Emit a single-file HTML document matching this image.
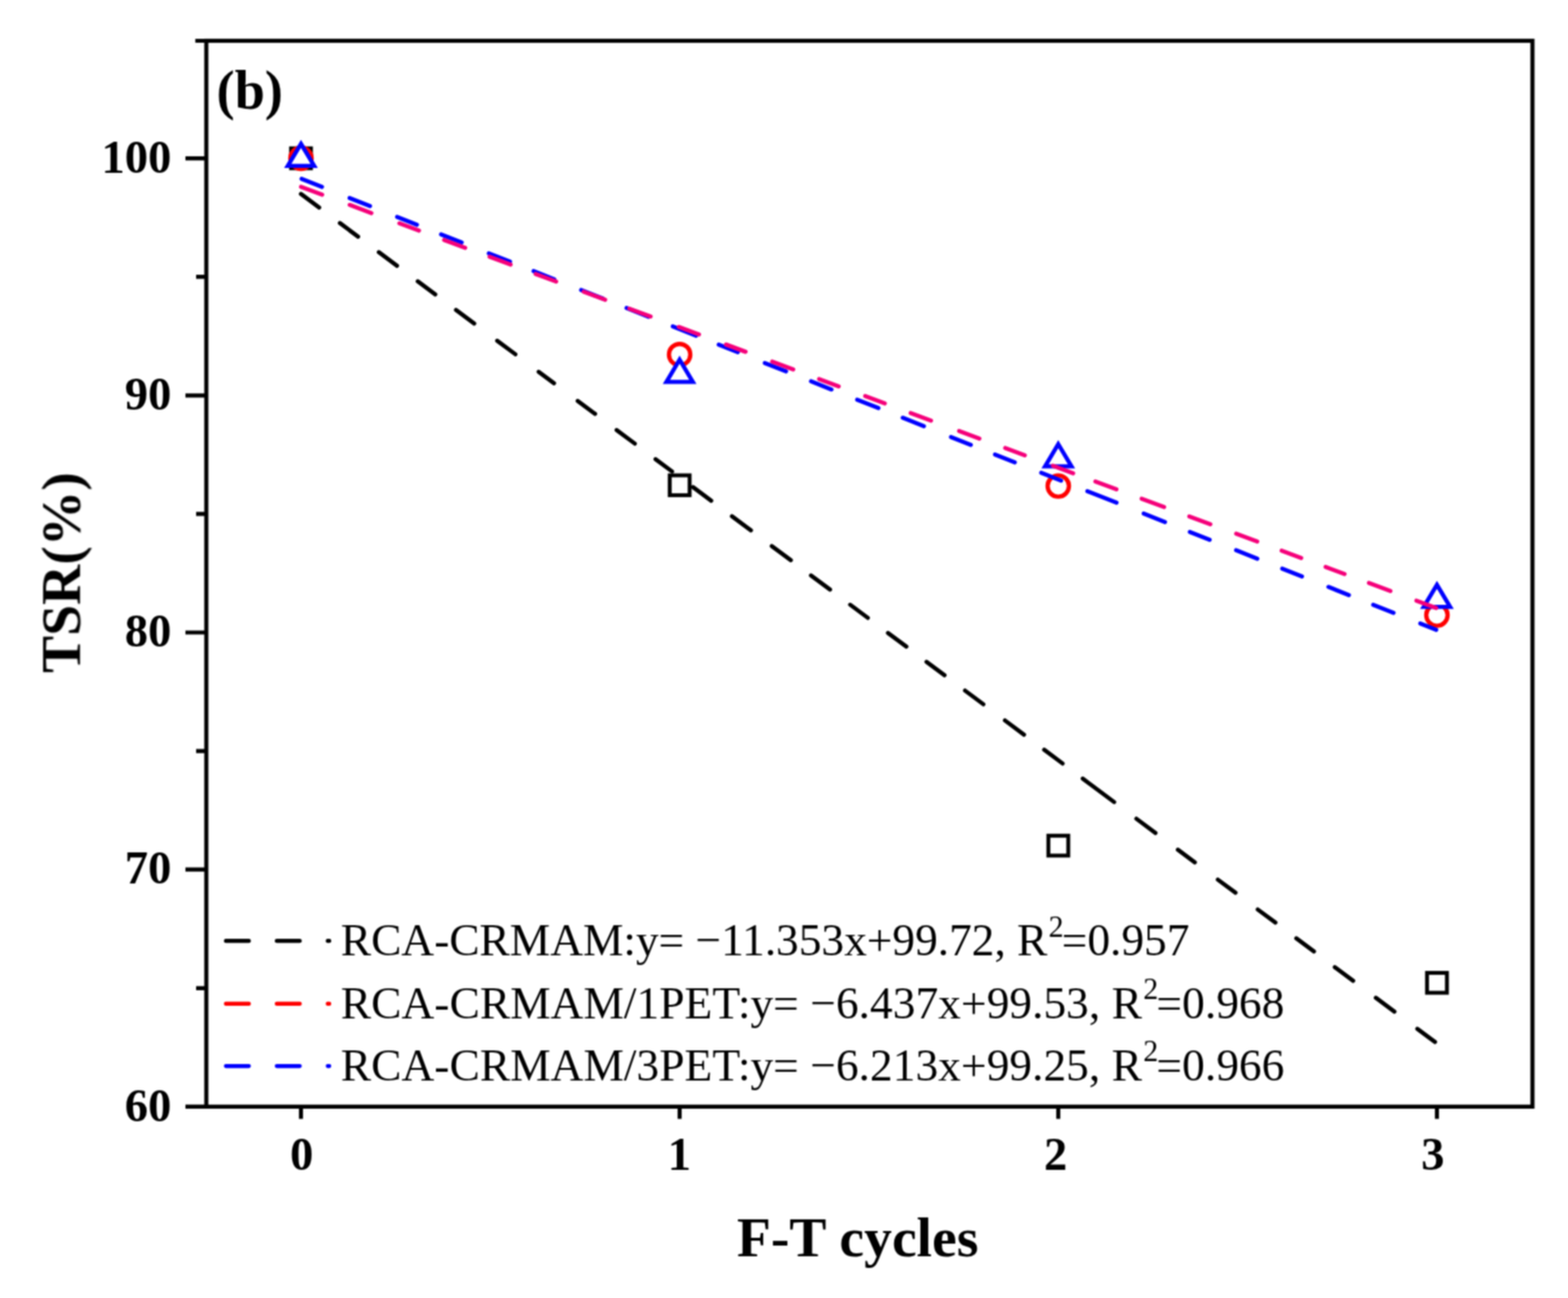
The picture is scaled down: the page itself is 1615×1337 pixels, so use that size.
<!DOCTYPE html>
<html><head><meta charset="utf-8"><title>TSR vs F-T cycles</title>
<style>
html,body{margin:0;padding:0;background:#fff;}
body{width:1615px;height:1337px;overflow:hidden;}
svg{display:block;}
.tk{font-family:"Liberation Serif","Times New Roman",serif;font-weight:bold;font-size:48px;fill:#000;}
.lg{font-family:"Liberation Serif","Times New Roman",serif;font-size:46.85px;fill:#000;}
.ti{font-family:"Liberation Serif","Times New Roman",serif;font-weight:bold;font-size:57.3px;fill:#000;}
</style></head><body>
<svg width="1615" height="1337" viewBox="0 0 1615 1337">
<defs><filter id="soft" filterUnits="userSpaceOnUse" x="0" y="0" width="1615" height="1337" color-interpolation-filters="sRGB"><feConvolveMatrix order="3" kernelMatrix="1 2 1 2 4 2 1 2 1" divisor="16" edgeMode="duplicate"/></filter></defs>
<rect width="1615" height="1337" fill="#fff"/>
<g filter="url(#soft)">
<path d="M310.0 199.83L328.7 213.75M350.1 229.82L368.8 243.74M390.2 259.81L408.9 273.73M430.3 289.80L448.3 303.20M469.7 319.27L488.4 333.19M512.1 350.97L530.8 364.90M554.8 382.91L570.6 394.66M595.0 412.97L612.9 426.30M635.1 442.96L653.8 456.88M675.2 472.95L692.2 485.60M713.8 501.82L732.5 515.74M753.9 531.81L773.4 546.33M794.9 562.47L814.5 577.07M835.3 592.68L854.9 607.28M875.7 622.90L893.8 636.37M914.6 651.99L933.5 666.06M954.3 681.68L972.8 695.45M994.0 711.37L1012.8 725.37M1035.1 742.11L1054.7 756.70M1075.5 772.32L1094.4 786.39M1115.2 802.01L1147.5 826.10M1170.5 843.37L1190.1 857.96M1213.2 875.30L1230.6 888.25M1254.4 906.11L1272.5 919.59M1295.5 936.85L1313.6 950.32M1335.2 966.54L1353.3 980.01M1374.8 996.16L1393.7 1010.23M1417.1 1027.79L1436.2 1042.01M1459.8 1059.72L1478.0 1073.27" stroke="#000000" stroke-width="4.3" stroke-linecap="round" fill="none"/>
<g fill="#fff" stroke="#000" stroke-width="4.0">
<rect x="299.8" y="152.8" width="20.5" height="20.5"/>
<rect x="689.8" y="489.6" width="20.5" height="20.5"/>
<rect x="1079.8" y="860.8" width="20.5" height="20.5"/>
<rect x="1469.8" y="1002.1" width="20.5" height="20.5"/>
</g>
<g fill="#fff" stroke="#ff0000" stroke-width="4.4">
<circle cx="310.0" cy="163.0" r="11.0"/>
<circle cx="700.0" cy="365.2" r="11.0"/>
<circle cx="1090.0" cy="500.6" r="11.0"/>
<circle cx="1480.0" cy="633.6" r="11.0"/>
</g>
<g fill="#fff" stroke="#0000ff" stroke-width="4.3" stroke-linejoin="miter">
<polygon points="310.0,148.1 323.6,170.9 296.4,170.9"/>
<polygon points="700.0,370.5 713.6,393.3 686.4,393.3"/>
<polygon points="1090.0,457.5 1103.6,480.3 1076.4,480.3"/>
<polygon points="1480.0,602.4 1493.6,625.2 1466.4,625.2"/>
</g>
<path d="M310.7 184.29L331.6 192.57M360.1 203.93L381.1 212.24M409.1 223.40L429.4 231.44M454.4 241.40L475.5 249.76M503.5 260.92L525.3 269.55M549.6 279.24L570.9 287.68M598.6 298.71L620.9 307.55M645.4 317.31L667.9 326.23M693.0 336.23L716.9 345.70M740.3 355.03L759.9 362.79M787.8 373.91L809.6 382.54M835.4 392.83L856.4 401.14M882.9 411.71L904.7 420.34M929.8 430.35L951.6 438.98M979.6 450.14L999.9 458.18M1024.9 468.14L1045.2 476.18M1072.5 487.06L1092.8 495.10M1120.0 505.94L1150.0 517.83M1178.0 528.99L1199.9 537.66M1225.6 547.91L1245.9 555.95M1273.2 566.83L1295.0 575.46M1320.7 585.70L1341.0 593.74M1368.3 604.62L1389.3 612.94M1414.4 622.94L1435.3 631.22M1462.9 642.22L1479.3 648.71" stroke="#0000ff" stroke-width="4.3" stroke-linecap="round" fill="none"/>
<path d="M310.1 192.52L331.8 200.60M360.2 211.11L382.5 219.41M411.4 230.10L431.5 237.59M457.5 247.20L479.1 255.24M504.3 264.56L525.9 272.60M551.7 282.14L572.8 290.00M601.2 300.50L623.3 308.73M648.2 317.94L670.1 326.09M699.2 336.85L719.9 344.56M747.8 354.88L767.9 362.37M795.4 372.54L817.0 380.58M843.7 390.45L863.8 397.94M891.2 408.07L911.3 415.56M938.0 425.43L958.9 433.22M987.9 443.94L1008.7 451.69M1035.4 461.56L1055.5 469.05M1084.5 479.78L1105.3 487.52M1128.3 496.02L1149.9 504.07M1175.9 513.68L1199.0 522.28M1225.0 531.89L1246.6 539.94M1273.3 549.81L1294.9 557.86M1320.1 567.17L1340.2 574.66M1365.4 583.97L1384.8 591.20M1410.0 600.52L1432.1 608.75M1458.9 618.66L1479.2 626.22" stroke="#f5007a" stroke-width="4.3" stroke-linecap="round" fill="none"/>
<rect x="212.5" y="42.0" width="1365.9" height="1097.9" fill="none" stroke="#000" stroke-width="4.2"/>
<path d="M212.5 1139.9H191.0M212.5 895.7H191.0M212.5 651.5H191.0M212.5 407.3H191.0M212.5 163.1H191.0M212.5 1017.8H202.0M212.5 773.6H202.0M212.5 529.4H202.0M212.5 285.2H202.0M212.5 42.0H201.2M310.0 1139.9V1152.5M700.0 1139.9V1152.5M1090.0 1139.9V1152.5M1480.0 1139.9V1152.5" stroke="#000" stroke-width="4.2" fill="none"/>
<text class="tk" x="176.4" y="1154.5" text-anchor="end">60</text>
<text class="tk" x="176.4" y="910.3" text-anchor="end">70</text>
<text class="tk" x="176.4" y="666.1" text-anchor="end">80</text>
<text class="tk" x="176.4" y="421.9" text-anchor="end">90</text>
<text class="tk" x="176.4" y="177.7" text-anchor="end">100</text>
<text class="tk" x="310.8" y="1205.2" text-anchor="middle">0</text>
<text class="tk" x="699.7" y="1205.2" text-anchor="middle">1</text>
<text class="tk" x="1087.3" y="1205.2" text-anchor="middle">2</text>
<text class="tk" x="1475.8" y="1205.2" text-anchor="middle">3</text>
<text class="ti" x="759" y="1294">F-T cycles</text>
<text class="ti" transform="translate(82.4,693.2) rotate(-90)">TSR(%)</text>
<text class="ti" style="font-size:56px" x="223" y="112">(b)</text>
<path d="M232.7 969.2H256.3M285.1 969.2H308.7M337.6 969.2H339.1" stroke="#000000" stroke-width="4.3" stroke-linecap="round" fill="none"/>
<text class="lg" style="letter-spacing:-0.06px" x="351.0" y="983.7">RCA-CRMAM:y= −11.353x+99.72, R<tspan dx="1.2" dy="-18.3" style="font-size:31px">2</tspan><tspan dx="-1.8" dy="18.3">=0.957</tspan></text>
<path d="M232.7 1033.9H256.3M285.1 1033.9H308.7M337.6 1033.9H339.1" stroke="#ff0000" stroke-width="4.3" stroke-linecap="round" fill="none"/>
<text class="lg" x="351.0" y="1049.3">RCA-CRMAM/1PET:y= −6.437x+99.53, R<tspan dx="1.2" dy="-20.8" style="font-size:31px">2</tspan><tspan dx="-1.8" dy="20.8">=0.968</tspan></text>
<path d="M232.7 1098.1H256.3M285.1 1098.1H308.7M337.6 1098.1H339.1" stroke="#0000ff" stroke-width="4.3" stroke-linecap="round" fill="none"/>
<text class="lg" x="351.0" y="1113.3">RCA-CRMAM/3PET:y= −6.213x+99.25, R<tspan dx="1.2" dy="-20.7" style="font-size:31px">2</tspan><tspan dx="-1.8" dy="20.7">=0.966</tspan></text>
</g>
</svg>
</body></html>
